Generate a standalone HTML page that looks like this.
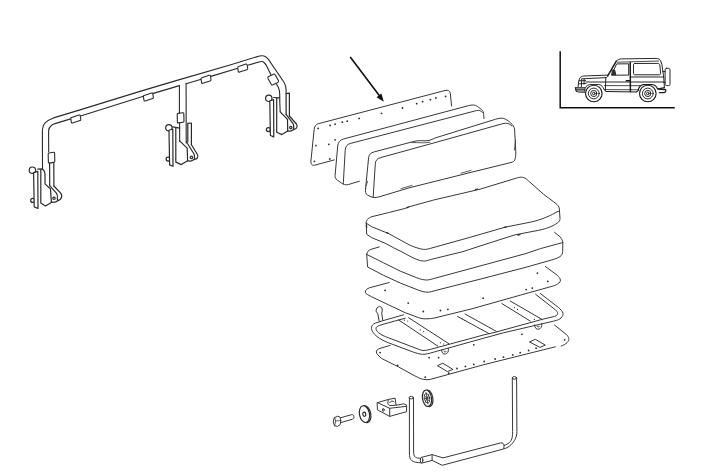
<!DOCTYPE html>
<html lang="en">
<head>
<meta charset="utf-8">
<title>Rear bench seat - exploded parts diagram</title>
<style>
html,body{margin:0;padding:0;background:#fff;}
body{width:709px;height:472px;overflow:hidden;font-family:"Liberation Sans",sans-serif;}
svg{display:block;position:absolute;left:0;top:0;}
.l{fill:none;stroke:#383838;stroke-width:1.0;stroke-linecap:round;stroke-linejoin:round;}
.w{fill:#fff;stroke:#383838;stroke-width:1.0;stroke-linecap:round;stroke-linejoin:round;}
.t{fill:none;stroke:#333;stroke-width:0.8;stroke-linecap:round;stroke-linejoin:round;}
.k{fill:#222;stroke:none;}
.h{fill:#2a2a2a;stroke:none;}
.b .l,.b .w{stroke-width:1.2;stroke:#2a2a2a;}
#frame .l,#frame .w{stroke-width:1.1;stroke:#2a2a2a;}
.c path,.c circle{fill:none;stroke:#1c1c1c;stroke-width:0.95;stroke-linecap:round;stroke-linejoin:round;}
</style>
</head>
<body>
<svg width="709" height="472" viewBox="0 0 709 472" role="img" aria-label="Exploded parts diagram">
<rect x="0" y="0" width="709" height="472" fill="#fff"/>

<!-- ===== folding frame (top-left) ===== -->
<g id="frame">
  <path class="l" d="M42.5 168.9 L42.4 131 C42.5 126.6 43.6 124.4 45.4 122.6 C47.4 120.6 50 119.2 53.6 117.9 L80 109.9 L140 91.4 L177 80.4 L230 65 L256 57 C258.6 56.2 260.4 55.6 262.2 55.7 C264.8 55.8 266.8 57.2 268.6 59.6 L284 82.2 C285.4 84.4 286 86.6 286.1 90 L286.1 93.5"/>
  <path class="l" d="M48.7 152 L48.6 131 C48.7 128.6 49.6 126.8 51.6 125.2 C53 124.2 54.4 123.8 55.8 123.4 L70.6 118.9 M80.6 116 L143.4 96.3 M153.4 93.4 L179.4 85.6 M186.1 83.7 L201.2 79.2 M210.8 76.4 L237.8 68.3 M247.8 65.3 L258 62.2 C260.6 61.4 262.4 61.2 263.8 62.2 C264.8 63 265.6 64.2 266.4 65.4 L270.8 74.4 M276.4 84 L278.2 87 C279.3 89 279.6 91 279.7 94 L279.8 103 L280.2 111.8"/>
  <path class="w" d="M71.7 117.4 L79.0 115.0 Q80.0 114.7 80.2 115.7 L80.8 119.3 Q81.0 120.3 79.9 120.6 L72.6 123.0 Q71.5 123.3 71.4 122.3 L70.8 118.7 Q70.6 117.7 71.7 117.4 Z"/>
  <path class="w" d="M144.3 95.4 L151.6 93.0 Q152.7 92.7 152.8 93.7 L153.4 97.3 Q153.5 98.3 152.5 98.6 L145.2 101.0 Q144.2 101.3 144.0 100.3 L143.4 96.7 Q143.3 95.7 144.3 95.4 Z"/>
  <path class="w" d="M201.9 77.7 L209.2 75.3 Q210.2 75.0 210.4 76.0 L211.0 79.6 Q211.1 80.6 210.1 80.9 L202.8 83.3 Q201.8 83.6 201.6 82.6 L201.0 79.0 Q200.9 78.0 201.9 77.7 Z"/>
  <path class="w" d="M238.6 66.5 L245.9 64.1 Q246.9 63.8 247.1 64.8 L247.7 68.4 Q247.8 69.4 246.8 69.7 L239.5 72.1 Q238.4 72.4 238.3 71.4 L237.7 67.8 Q237.6 66.8 238.6 66.5 Z"/>
  <path class="w" d="M268.6 76.6 L273.4 74.2 C274.2 73.8 274.8 74 275.2 74.8 L278.4 80.6 C278.8 81.4 278.6 82 277.8 82.4 L273 84.8 C272.2 85.2 271.6 85 271.2 84.2 L268 78.4 C267.6 77.6 267.8 77 268.6 76.6 Z"/>
  <path class="w" d="M49.2 153 L53.6 152.3 C54.3 152.2 54.6 152.5 54.6 153.2 L54.8 161.2 C54.8 161.9 54.5 162.3 53.8 162.4 L49.4 163.1 C48.7 163.2 48.4 162.9 48.4 162.2 L48.2 154.2 C48.2 153.5 48.5 153.1 49.2 153 Z"/>
  <path class="l" d="M179.4 85.6 L179.4 112.8 M179.6 122.6 L179.7 141 M186.1 83.5 L186.2 143"/>
  <path class="w" d="M178.2 113.4 L182.8 112.7 C183.5 112.6 183.8 112.9 183.8 113.6 L184 121 C184 121.7 183.7 122.1 183 122.2 L178.4 122.9 C177.7 123 177.4 122.7 177.4 122 L177.2 114.6 C177.2 113.9 177.5 113.5 178.2 113.4 Z"/>
</g>
<!-- hinge brackets -->
<g id="hinge-mid" class="b">
  <circle class="w" cx="168.9" cy="127.8" r="3.2"/>
  <circle class="w" cx="168.1" cy="159.1" r="2"/>
  <path class="w" d="M169.0 130.2 L172.8 129.0 L173.0 166.3 L169.6 164.9 Z"/>
  <path class="l" d="M172.8 126.9 L179.7 128.2 M175.8 127.8 L175.8 162.1 M179.7 141 L180.4 141.6 L187.2 148.1 L187.6 160.8 L181.3 164.6 L175.8 162.1"/>
  <path class="l" d="M187.8 142 L187.8 123.4 L191.4 123 L191.4 144.7"/>
  <path class="l" d="M191.4 144.7 L197.4 154.5 C198.2 155.8 198.2 157 197.4 158 C196.6 158.8 195.6 159.2 194.4 159.4 L190.6 161.2 L187.6 160.8 M186.5 142 L194 154 C194.8 155.6 194.6 157.6 194.4 159.4"/>
  <circle class="l" cx="191.4" cy="157.4" r="1.2"/>
</g>
<g id="hinge-right" class="b">
  <circle class="w" cx="268.8" cy="98.3" r="3.2"/>
  <circle class="w" cx="268.4" cy="129.6" r="2"/>
  <path class="w" d="M269.8 100.8 L273.6 99.6 L273.8 136.9 L270.4 135.5 Z"/>
  <path class="l" d="M273.6 97.5 L279.6 97.8 M276.7 98.4 L276.7 132.3 M280.2 111.8 L287.5 119.4 L287.7 131.1 L281.9 134.6 L276.7 132.3"/>
  <path class="l" d="M286.1 93.5 L286.1 114.4 M286.1 93.5 L289.4 93.2 L289.4 116"/>
  <path class="l" d="M289.4 116 L296.4 124 C297.4 125.4 297.4 126.8 296.6 127.8 C295.8 128.8 294.8 129.2 293.6 129.6 L290.4 131.2 L287.7 131.1 M286.1 114.4 L293.2 123.8 C294 125.4 293.8 127.6 293.6 129.6"/>
  <circle class="l" cx="290.8" cy="127.6" r="1.2"/>
</g>
<g id="hinge-left" class="b">
  <circle class="w" cx="32.4" cy="170.2" r="3.2"/>
  <circle class="w" cx="32.7" cy="200.4" r="2"/>
  <path class="w" d="M33.6 172.6 L37.8 171.4 L38.0 208.4 L34.2 207.0 Z"/>
  <path class="l" d="M37.8 169.2 L42.5 168.9 C44 170 45 171.6 45 174 L45 183.9 L50.5 189 L51.4 202.4 L45.4 205.9 L40.8 202.9 L40.8 169.8"/>
  <path class="l" d="M49.6 163.2 L49.7 185.6 M53.8 163 L53.9 186"/>
  <path class="l" d="M53.9 186 L60.7 193.2 C62 195 62 197 61 198.6 C60.4 199.6 59.4 200.2 58 200.6 L55 202.2 L51.4 202.4 M49.7 185.6 L56.4 193.2 C57.6 195 57.8 196.6 57.3 198 C57 199.2 57.6 199.8 58 200.6"/>
  <circle class="l" cx="54.0" cy="198.3" r="1.2"/>
</g>

<!-- ===== arrow ===== -->
<path class="l" style="stroke-width:1.6;stroke:#111" d="M350.6 57.4 L380.4 97"/>
<path class="k" style="fill:#111" d="M383.8 101.8 L376.6 97.2 L381.4 93.6 Z"/>

<!-- ===== back plate with holes ===== -->
<g id="plate-back">
  <path class="l" d="M334.3 159.9 L314.6 165.2 C312 165.8 310.6 164 310.9 161 L314.2 129.2 C314.6 125.8 315.8 124.4 318.4 123.7 L445 90.5 C448.2 89.7 449.8 90.6 450.3 93.2 L451.6 106"/>
  <circle class="h" cx="318.1" cy="128.4" r="0.90"/><circle class="h" cx="330.1" cy="125.4" r="0.90"/><circle class="h" cx="335.1" cy="124.2" r="0.90"/><circle class="h" cx="342.3" cy="122.2" r="0.90"/><circle class="h" cx="347.2" cy="121.2" r="0.90"/><circle class="h" cx="359.1" cy="118.4" r="0.90"/><circle class="h" cx="381.5" cy="113.3" r="0.90"/><circle class="h" cx="402.5" cy="108.0" r="0.90"/><circle class="h" cx="416.7" cy="103.7" r="0.90"/><circle class="h" cx="422.6" cy="101.7" r="0.90"/><circle class="h" cx="430.4" cy="99.7" r="0.90"/><circle class="h" cx="435.9" cy="98.0" r="0.90"/><circle class="h" cx="445.6" cy="96.4" r="0.90"/><circle class="h" cx="315.9" cy="145.6" r="0.90"/><circle class="h" cx="314.4" cy="161.3" r="0.90"/><circle class="h" cx="328.8" cy="144.3" r="0.90"/><circle class="h" cx="335.1" cy="139.8" r="0.90"/><circle class="h" cx="329.8" cy="159.0" r="0.90"/>
</g>
<!-- ===== backrest pad (middle) ===== -->
<g id="pad-mid">
  <path class="l" d="M359.4 181.2 L348.5 184.5 C345.5 185.2 343.6 184.6 341.6 183.2 L337.2 180 C335.4 178.6 334.9 177.4 335.1 175.4 L337.7 146 C338.2 142.2 340 140 343.5 139 L468.6 105.6 C472.4 104.6 475 104.8 477.4 106.4 L481.6 109.6 C483.2 111 483.6 112.4 483.7 114.6 L484 118.6"/>
  <path class="l" d="M343.3 183.6 L345.2 150.4 C345.5 146.4 347 144.4 350.2 143.5 L476.4 110.6 C479 110 481 110.6 482.4 112.4"/>
</g>
<!-- ===== backrest pad (front) ===== -->
<g id="pad-front">
  <path class="l" d="M365.6 188.7 L368.6 157.7 C369 154.2 370.8 152.8 374.5 151.8 L414 141.4 C420 139.8 424 141.4 428 140.6 C431 140 433 138.8 437 137.4 L495.4 119.3 C498.6 118.3 501.4 117.8 503.6 118.4 C506.4 119.2 510 122 512.1 124.3 C514 126.4 514.5 128 514.7 131 L515.8 152 C515.9 155 515.6 158 514.6 160.3 C514.2 161.4 513 162 511 162.5 L470 172.6 L410 187.6 L380 196.6 C376 197.8 373.6 197.8 371 196.8 L367.4 195 C365.4 193.8 365.3 192 365.6 188.7 Z"/>
  <path class="l" d="M373.2 196.6 L375.3 163.8 C375.6 160.4 377 158.6 380.3 157.7 L430 144 L503 123.6 C506.6 122.6 509.6 123.4 512 126"/>
  <path class="t" d="M412 142.6 C418 142.4 424 143.4 430 142.2 M515.6 140 L514.4 150 M366 186 L367.6 181.4 M401 188.6 L412 185.4 M461 173.2 L471 170.4"/>
</g>

<!-- ===== seat cushion (upper) ===== -->
<g id="seat-top">
  <path class="l" d="M366.2 223.2 C365.8 220.6 368 218 371.8 216.7 L388.5 212.6 L405.2 208.4 C407 207.8 407.6 206.8 408.8 206.9 L433.7 200 L480 189.2 L516.8 178 C519 177.3 521 177 522.6 177.3 C525 177.7 527 179.4 528.5 180.9 L543.6 194.3 L553.6 201.8 C556.4 203.8 558 205.2 558.9 207 C559.5 208.4 559.6 209.6 559.5 211"/>
  <path class="l" d="M366.2 223.2 L371.8 226.8 L388.5 233.5 L405.2 242.7 C409 244.8 412.6 246.6 416.9 247.8 C419.4 248.6 421.4 249.2 423.6 249.4 C426 249.6 428 249 430.3 248.4 L468 237.9 L505.1 227.2 L530.2 222.2 C536 221 541.6 219.2 546.9 216.9 C551 215.2 554.4 213.4 557 211.8 L559.5 211"/>
  <path class="l" d="M366.2 223.2 L366.7 234.3 L371.8 237.7 L385.1 243.2 L393.5 247.7 L405.2 253.6 C409 255.8 413 258 416.9 259.4 C419.2 260.4 421.4 261 423.6 261.1 C426 261.2 428.2 260.2 430.3 259.6 L463 251.6 L480 246 L515.1 234.8 L538.6 230.3 C543.4 229.4 548 228 552 226.1 C554.6 225 557 223.4 558.7 221.9 C559.8 220.8 560 219.6 560 218.5 L559.5 211"/>
  <path class="t" style="stroke-width:1.3" d="M475.4 189.6 L477.4 189 M504.2 227.3 L506.2 226.8 M518 235 L520 234.6 M406.6 207.8 L408.6 207 M366.5 225 L366.6 227.4 M386.6 232.6 L388.4 233.4"/>
</g>
<!-- ===== seat cushion (lower) ===== -->
<g id="seat-low">
  <path class="l" d="M379.3 246.9 L370.9 249.4 C368.4 250.4 366.8 252 366.7 254.4"/>
  <path class="l" d="M366.7 254.4 L383.5 262.8 L400.2 271.1 L416.9 277.8 C420.4 279.2 424.4 280.2 427.5 280 C429.6 279.8 431.6 279.2 433.6 278.6 L480 266 L525 253.8 L540.3 248.7 C548 246.4 556 244.4 562.8 242.6"/>
  <path class="l" d="M366.7 254.4 L367.6 267 L383.5 275.3 L400.2 283 L417 289.6 C421 291.2 425 292.4 428.4 292.2 C430.4 292 432.4 291.4 434.4 290.8 L480 279.2 L525 267.5 L548 261 C553 259.6 557 258.6 560 256.6 C561.8 255.2 562.6 253.6 562.7 251.4 L562.8 242.6 C562.6 240.6 561.8 239.2 560.3 237 L554.5 232.3"/>
</g>

<!-- ===== seat base plate (upper) ===== -->
<g id="plate-1">
  <path class="l" d="M389.3 282.5 L370.1 287.6 C367 288.6 365.3 290 365.4 292.2 C365.5 293.4 366.4 294 367.6 294.6 L371.7 296.8 L388.5 304.8 L405.2 312.7 L418.6 317.7 C422 318.8 424.6 319 427 318.8 C429.4 318.7 431.6 318.6 433.7 318.2 L473 308.5 L520.2 295.2 L550.3 286.8 C554 285.8 556 285.2 557.6 284 C559.8 282.6 560.6 281.4 560.4 280.1 C560.2 278.4 559 277 557 275.1 L545.3 266.4"/>
  <circle class="h" cx="385.1" cy="290.4" r="0.90"/><circle class="h" cx="408.2" cy="303.1" r="0.90"/><circle class="h" cx="423.3" cy="311.5" r="0.90"/><circle class="h" cx="440.4" cy="310.5" r="0.90"/><circle class="h" cx="447.9" cy="309.3" r="0.90"/><circle class="h" cx="483.1" cy="298.2" r="0.90"/><circle class="h" cx="526.1" cy="289.6" r="0.90"/><circle class="h" cx="532.3" cy="288.1" r="0.90"/><circle class="h" cx="537.4" cy="273.1" r="0.90"/><circle class="h" cx="547.8" cy="281.4" r="0.90"/>
</g>
<!-- ===== tubular seat frame ===== -->
<g id="seat-frame">
  <path class="l" d="M398.5 319.9 L437.8 346.1 M408.6 317.7 L448.7 343.6 M457.5 316.4 L489 333.6 M465 314 L496.4 331.4 M501.8 303.5 L530.3 321.1 M510.2 301 L542 319.4"/>
  <circle class="h" cx="404.4" cy="320.2" r="0.60"/><circle class="h" cx="407.7" cy="321.0" r="0.60"/><circle class="h" cx="420.3" cy="329.9" r="0.60"/><circle class="h" cx="423.6" cy="331.6" r="0.60"/><circle class="h" cx="440.4" cy="342.8" r="0.60"/><circle class="h" cx="443.7" cy="344.0" r="0.60"/><circle class="h" cx="462.0" cy="318.6" r="0.60"/><circle class="h" cx="465.0" cy="320.4" r="0.60"/><circle class="h" cx="514.4" cy="307.7" r="0.60"/><circle class="h" cx="517.5" cy="309.4" r="0.60"/><circle class="h" cx="534.4" cy="319.4" r="0.60"/>
  <path class="l" d="M403.5 314.8 L381.8 321 L375.6 323 C372.6 324 371.2 326 371.5 328.6 C371.8 331 373.4 333.4 376.8 336.4 C380 339 384 341 388.5 342.8 L411.9 351.6 C416 353 419.6 354.2 422.6 354.3 C426 354.4 429 353.4 432 352.6 L483 338.4 L503.5 332.8 L553.7 321.1 C557.6 320.2 559.8 319.4 561.2 317.8 C562.6 316.2 563.2 314.8 562.9 313.2 C562.5 311.2 560.8 309.4 558.7 307.7 L540.3 293.5"/>
  <path class="l" d="M405.2 318.2 L384 324 L379.6 325.4 C377 326.2 375.8 327.4 376 328.8 C376.2 330.2 377 331.4 378.6 332.8 C381 334.8 384.6 336.4 388.5 337.8 L416.9 348.6 C419.2 349.4 421 350.4 423 350.5 C425.6 350.6 428 350 430.4 349.4 L483 335.1 L495.1 332.3 L542 319.4 L553 316.8 C555.6 316.2 556.8 315.4 557.4 314.4 C558 313.2 557.6 311.8 555.4 309.8 L535.6 294.3"/>
  <path class="l" d="M441.6 350 C441.6 353 443.4 354.4 445.4 354 C447.6 353.6 448.8 351.6 448.4 348.6 M444 351 C444.2 352.4 445.4 352.6 446 351.6"/>
  <path class="l" d="M534.6 324.8 C534.6 328 536.4 329.6 538.6 329.2 C540.8 328.8 542.2 326.8 541.8 323.4 M537 326 C537.4 327.4 538.8 327.4 539.4 326.4"/>
  <path class="l" d="M379.2 321.2 L377.8 313.8 L375.9 311 L377 307.8 L379.4 306.3 L381.6 307.4 L382.4 310 L381.7 313 L382.8 320.4"/>
</g>
<!-- ===== seat base plate (lower) ===== -->
<g id="plate-2">
  <path class="l" d="M390.1 345.4 L380 348.4 C377.6 349.2 376.2 350.4 376.3 352 C376.4 353.2 377 354 378 355 L381.7 358.5 L398.5 366.9 L415.2 376.1 C418.6 377.8 421 379 423.6 379.4 C426 379.8 428 379.8 430.3 379.4 L483 364.9 L555.4 346.8"/>
  <path class="l" d="M561.2 346 C563.6 345.2 565.6 344 567.1 342.6 C568.6 341.2 569 339.8 568.7 338.5 C568.4 337 567.6 335.6 566.2 334.3 L554.5 325.1"/>
  <path class="l" d="M437.8 365.5 L442.8 363.2 L452.9 369.4 L447.8 371.5 Z"/>
  <path class="l" d="M529.9 341.8 L535.3 339.3 L545.3 345.1 L540.3 347.2 Z"/>
  <circle class="h" cx="380.1" cy="352.6" r="0.90"/><circle class="h" cx="397.6" cy="365.5" r="0.90"/><circle class="h" cx="425.3" cy="377.2" r="0.90"/><circle class="h" cx="429.1" cy="357.7" r="0.90"/><circle class="h" cx="438.6" cy="357.7" r="0.90"/><circle class="h" cx="448.7" cy="373.2" r="0.90"/><circle class="h" cx="457.0" cy="368.5" r="0.90"/><circle class="h" cx="465.4" cy="366.4" r="0.90"/><circle class="h" cx="473.8" cy="364.4" r="0.90"/><circle class="h" cx="473.8" cy="344.8" r="0.90"/><circle class="h" cx="484.2" cy="361.5" r="0.90"/><circle class="h" cx="495.1" cy="359.0" r="0.90"/><circle class="h" cx="503.5" cy="357.2" r="0.90"/><circle class="h" cx="512.7" cy="354.9" r="0.90"/><circle class="h" cx="520.2" cy="352.7" r="0.90"/><circle class="h" cx="528.6" cy="350.5" r="0.90"/><circle class="h" cx="536.1" cy="348.2" r="0.90"/><circle class="h" cx="564.6" cy="339.8" r="0.90"/><circle class="h" cx="521.9" cy="334.3" r="0.90"/>
</g>

<!-- ===== hardware: bolt, washer, clamp block, disc ===== -->
<g id="bolt">
  <path class="l" d="M340.5 417.8 L351.4 414.7 C353 414.3 353.8 415.2 353.9 416.8 C354 418.2 353.6 418.9 352.6 419.2 L340.6 422.6"/>
  <path class="w" d="M334.6 417.6 L337.6 416.2 L340 417 L340.8 420.6 L340.2 424.6 L337.4 426.4 L334.6 425.8 L333.3 422.4 Z"/>
  <path class="t" d="M334.6 417.6 L335.6 421 L334.6 425.8 M335.6 421 L340.8 420.6"/>
</g>
<g id="washer" class="b" transform="rotate(-11 364.9 414.1)">
  <ellipse class="w" cx="365.7" cy="414.5" rx="5" ry="8.5"/>
  <ellipse class="w" cx="364.5" cy="414" rx="5" ry="8.5"/>
  <ellipse class="l" cx="364.3" cy="414.1" rx="1.5" ry="2.1"/>
</g>
<g id="clamp">
  <path class="w" d="M377.5 402.6 L388.3 399.5 L395.1 398.1 L396.1 405.1 L398.5 404.9 L403.3 403.8 L406.2 404.8 L406.6 406.3 L406.6 411.7 L389.7 416.4 L377.8 410 Z"/>
  <path class="l" d="M377.5 402.6 L389.7 408.3 L406.6 406.3 M389.7 408.3 L389.7 416.4 M388.3 399.5 L387.8 403.2 C388 404.8 389.4 405.6 391 405.6 L396.1 405.1 M389.8 402.6 C390.6 400.8 393 400.4 394 401.8"/>
  <ellipse class="l" cx="383.3" cy="409.9" rx="0.9" ry="1.4"/>
</g>
<g id="disc" class="b" transform="rotate(-9 427.3 398.3)">
  <ellipse class="w" cx="428.3" cy="398.6" rx="4.5" ry="8.3"/>
  <ellipse class="w" cx="427" cy="398.2" rx="4.5" ry="8.3"/>
  <path class="t" d="M424.6 394.6 L429.2 402 M429.4 394.8 L424.6 402 M427 392.4 L427 404 M424 398.2 L430 398.2"/>
  <ellipse class="t" cx="427" cy="398.2" rx="2.6" ry="4.8"/>
</g>
<!-- ===== U-shaped retaining bar ===== -->
<g id="ubar">
  <path class="l" d="M409.4 398 L409.4 453 C409.4 457 410.1 459.4 412 460.8 C414 462.2 416.6 462.6 421.4 462.8"/>
  <path class="l" d="M413.5 398 L413.6 451 C413.6 454.4 414 456.2 415.4 457.2 C416.6 458 418.4 458.2 420.6 458.2"/>
  <ellipse class="l" cx="411.3" cy="397.6" rx="2.1" ry="1.3"/>
  <path class="l" d="M421.4 457.4 L432.1 454.6 L443 457.9 L500.7 442.9 C502.6 442.5 503.8 443.6 504 445.6 C504.2 447.6 503.8 448.8 502.4 449.3 L442.2 465.3 L432.1 460.4 L422.2 463"/>
  <ellipse class="l" cx="421.6" cy="460.2" rx="1.3" ry="2.8"/>
  <path class="l" d="M432.1 454.6 L432.1 460.4"/>
  <path class="l" d="M503.8 449 C507 448 509.4 446.4 511.4 444.4 C514 441.8 515.6 439 516.4 436 C516.8 434.4 516.9 433 516.9 431.5 L516.6 378.4"/>
  <path class="l" d="M504.1 445.4 C506.2 444.8 507.8 444 509.2 442.8 C511 441.2 511.8 439.4 512.2 437.4 C512.6 435.4 512.6 433.4 512.6 431.5 L512.3 378.4"/>
  <ellipse class="l" cx="514.4" cy="377.9" rx="2.1" ry="1.3"/>
</g>

<!-- ===== vehicle pictogram ===== -->
<g id="vehicle">
  <path class="l" style="stroke:#111;stroke-width:1.5;stroke-linecap:butt;stroke-linejoin:miter" d="M560.2 51.2 L560.2 107.7 L674.8 107.7"/>
  <g class="c">
    <!-- roof + rear -->
    <path d="M616.3 61.2 C617.6 59.8 619.4 59.1 621.4 58.9 L656.2 58.4 C658.6 58.4 659.8 59.2 660.6 60.8 L661.9 64.5 L663.7 77 L664.4 87.4"/>
    <path d="M617.6 62.2 L658.6 61" style="stroke-width:0.8"/>
    <!-- A pillar -->
    <path d="M616.3 61.2 L607.6 76.2" style="stroke-width:1.5"/>
    <!-- hood / front -->
    <path d="M607.5 75.1 L583.8 76 C581.6 76.2 580.2 77.2 579.4 78.9 L578.4 83 L578.1 87"/>
    <path d="M606.4 77.6 L582.4 78.8 M579 80.8 L585.6 80.6 M578.6 83.8 L586 83.6 M581.6 79 L581.4 86.6 M584.2 79 L584 84"/>
    <path d="M575.4 87.6 L584.6 87.8 M575.4 87.6 L575.9 90.6 C576.2 91.6 577 92 578.6 92 L584.4 92.2 M576 89.6 L584.4 89.8" style="stroke-width:1.2"/>
    <!-- belt lines -->
    <path d="M586 82 L663.8 82 M631.4 77 L663.6 77"/>
    <path d="M604.4 85.6 L640 85.7" style="stroke-width:0.8"/>
    <!-- arches + sill -->
    <path d="M584.6 91 C584.8 87.4 586.6 85 589.6 84.6 L598.4 84.5 C601.4 84.8 603.2 86.8 604 89.6 L606.2 91.5"/>
    <path d="M606.2 91.5 L636.4 92 L638.2 90.6 C638.6 87.4 640.4 85 643.4 84.6 L652 84.5 C655 84.8 656.8 86.8 657.6 89 L664.4 87.6" style="stroke-width:1.2"/>
    <path d="M604.6 89.6 L637.8 89.8" style="stroke-width:0.8"/>
    <!-- doors -->
    <path d="M630.2 62.4 L630.4 91.6" style="stroke-width:1.5"/>
    <path d="M605.8 77.4 L605.4 90.4"/>
    <!-- windows -->
    <path d="M617 63.9 L628.7 63.8 L628.7 75.1 L611.8 75.2 Z"/>
    <path d="M634.9 63.5 L657.8 63.4 C659 63.4 659.6 63.9 659.8 65 L660.6 73.2 C660.7 74.3 660.2 74.8 659 74.8 L634.9 74.8 C633.9 74.8 633.5 74.3 633.5 73.4 L633.5 64.9 C633.5 63.9 633.9 63.5 634.9 63.5 Z"/>
    <!-- spare wheel -->
    <path d="M666.6 68.3 L668.6 68.3 C669.6 68.3 670 68.9 670 70.1 L670 83.8 C670 85 669.6 85.6 668.6 85.6 L666.6 85.6 C665.6 85.6 665.1 85 665.1 83.8 L665.1 70.1 C665.1 68.9 665.6 68.3 666.6 68.3 Z"/>
    <path d="M662.8 71.6 L665.1 71.6 M663.8 82.4 L665.1 82.4"/>
    <!-- rear bumper -->
    <path d="M658.2 89 L664.8 89.5 C665.8 89.7 666 90.4 665.6 91.4 C665.2 92.4 664.6 92.7 663.4 92.7 L659.4 92.6" style="stroke-width:1.3"/>
    <!-- wheels -->
    <circle cx="593.8" cy="93.5" r="8.3" style="fill:#fff;stroke-width:1.15"/><circle cx="593.8" cy="93.5" r="5.4"/><circle cx="593.8" cy="93.5" r="3.1"/><circle cx="593.8" cy="93.5" r="1.3"/>
    <circle cx="647.8" cy="93.5" r="8.3" style="fill:#fff;stroke-width:1.15"/><circle cx="647.8" cy="93.5" r="5.4"/><circle cx="647.8" cy="93.5" r="3.1"/><circle cx="647.8" cy="93.5" r="1.3"/>
    <!-- mirror, handle -->
    <path d="M612.4 70.2 L614.6 70 L615.8 74.6 L612.6 74.8 Z" style="fill:#333"/>
    <path d="M626.4 80.7 L629.4 80.7" style="stroke-width:1.6"/>
  </g>
</g>
</svg>
</body>
</html>
